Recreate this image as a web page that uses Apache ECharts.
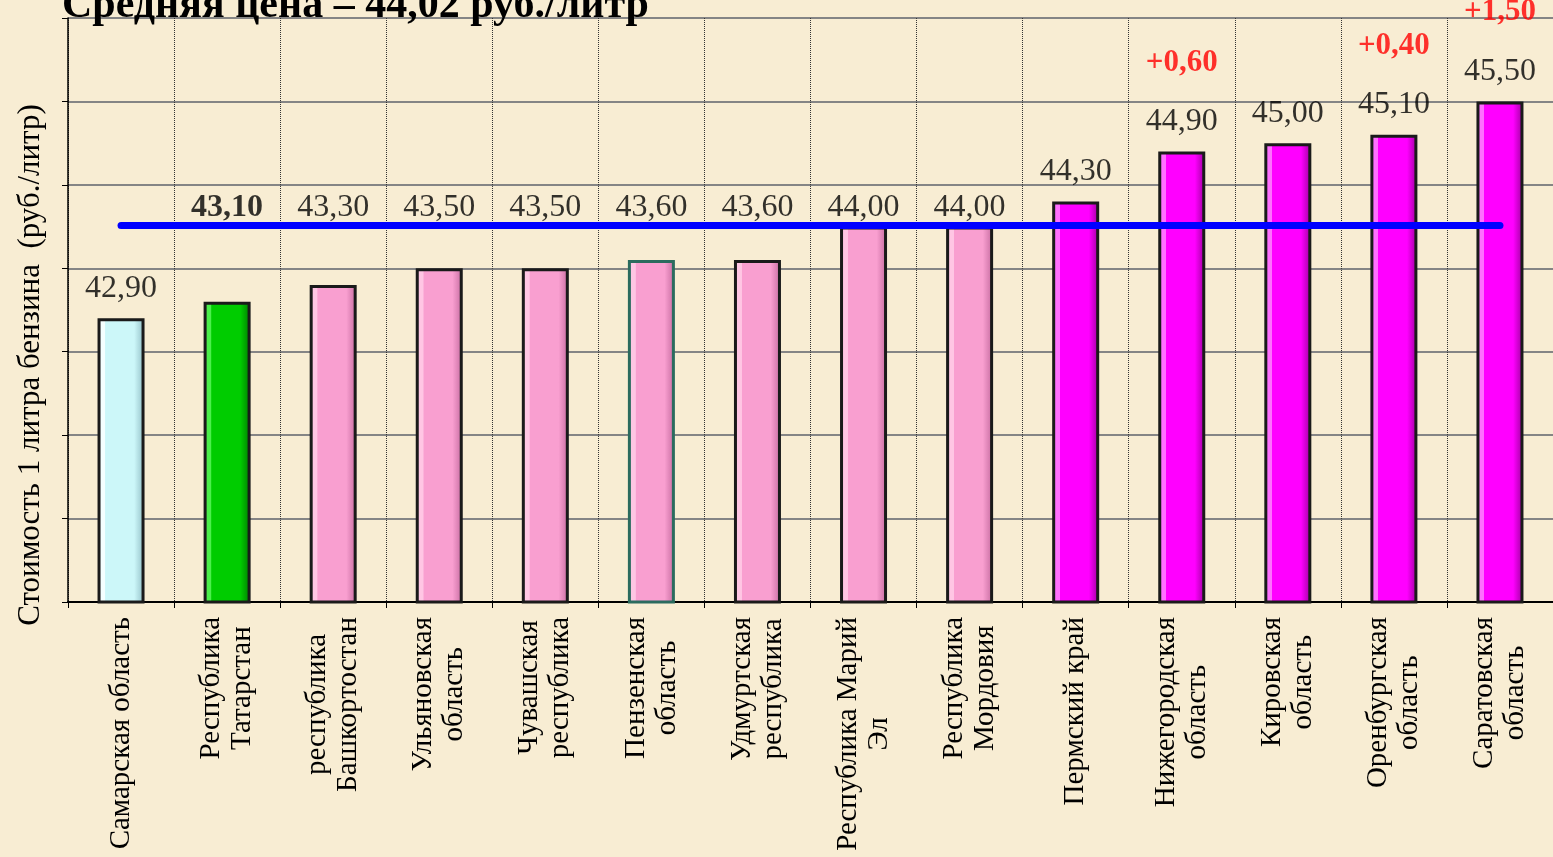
<!DOCTYPE html>
<html><head><meta charset="utf-8">
<script src="https://cdn.jsdelivr.net/npm/echarts@6/dist/echarts.min.js"></script>
<style>html,body{margin:0;padding:0;background:#f8edd3;} #c{width:1553px;height:857px;}</style>
</head><body><div id="c"></div>
<script>
const TITLE = 'Средняя цена – 44,02 руб./литр';
const Y_NAME = 'Стоимость 1 литра бензина  (руб./литр)';
const CATEGORIES = ['Самарская область','Республика\nТатарстан','республика\nБашкортостан','Ульяновская\nобласть','Чувашская\nреспублика','Пензенская\nобласть','Удмуртская\nреспублика','Республика Марий\nЭл','Республика\nМордовия','Пермский край','Нижегородская\nобласть','Кировская\nобласть','Оренбургская\nобласть','Саратовская\nобласть'];
const PRICES = [42.90, 43.10, 43.30, 43.50, 43.50, 43.60, 43.60, 44.00, 44.00, 44.30, 44.90, 45.00, 45.10, 45.50];
const CHANGES = [null, null, null, null, null, null, null, null, null, null, '+0,60', null, '+0,40', '+1,50'];
const AVERAGE = 44.02;
const GROUPS = ['samara', 'tatarstan', 'low', 'low', 'low', 'penza', 'low', 'low', 'low', 'high', 'high', 'high', 'high', 'high'];
const Y_MIN = 39.5, Y_MAX = 46.5, Y_STEP = 1;

const FONT = '"Liberation Serif", "Times New Roman", serif';
const PALETTE = {
  samara:    {light: '#f4ffff', base: '#ccf7f9', dark: '#8fbcc4', border: '#1a1a1a'},
  tatarstan: {light: '#4cf04c', base: '#00cc00', dark: '#007a00', border: '#1a1a1a'},
  low:       {light: '#ffc6e4', base: '#f99fd0', dark: '#c46a9e', border: '#1a1a1a'},
  penza:     {light: '#ffc6e4', base: '#f99fd0', dark: '#c46a9e', border: '#2b6b5e'},
  high:      {light: '#ff70ff', base: '#ff00ff', dark: '#9a009a', border: '#1a1a1a'}
};
function barStyle(g) {
  const p = PALETTE[g];
  return {
    color: {type: 'linear', x: 0, y: 0, x2: 1, y2: 0, colorStops: [
      {offset: 0, color: p.light}, {offset: 0.16, color: p.light},
      {offset: 0.17, color: p.base}, {offset: 0.78, color: p.base},
      {offset: 1, color: p.dark}]},
    borderColor: p.border, borderWidth: 3
  };
}
const fmt = v => v.toFixed(2).replace('.', ',');

const chart = echarts.init(document.getElementById('c'));
chart.setOption({
  backgroundColor: '#f8edd3',
  animation: false,
  title: {text: TITLE, left: 57, top: -20, textStyle: {fontFamily: FONT, fontSize: 42, fontWeight: 'bold', color: '#000'}},
  grid: {left: 68, right: -2, top: 18, bottom: 255, containLabel: false},
  xAxis: {
    type: 'category', data: CATEGORIES, boundaryGap: true,
    axisLine: {lineStyle: {color: '#000', width: 2}},
    axisTick: {show: true, interval: 0, length: 6, lineStyle: {color: '#000', width: 1}},
    splitLine: {show: true, interval: 0, lineStyle: {type: 'dotted', color: '#333', width: 1}},
    axisLabel: {
      interval: 0, rotate: 90, margin: 15, color: '#000',
      formatter: v => v.split('\n').map(s => '{c|' + s + '}').join('\n'),
      rich: {c: {align: 'center', fontSize: 29, lineHeight: 31, fontFamily: FONT, color: '#000'}}
    }
  },
  yAxis: {
    type: 'value', min: Y_MIN, max: Y_MAX, interval: Y_STEP,
    name: Y_NAME, nameLocation: 'middle', nameRotate: 90, nameGap: 22,
    nameTextStyle: {fontFamily: FONT, fontSize: 31, color: '#000', padding: [0, 110, 0, 0]},
    axisLine: {show: true, lineStyle: {color: '#000', width: 1.5}},
    axisTick: {show: true, length: 6, lineStyle: {color: '#000'}},
    axisLabel: {show: false},
    splitLine: {show: true, lineStyle: {color: '#858585', width: 2}}
  },
  series: [
    {
      type: 'bar', barWidth: 47, z: 2,
      data: PRICES.map((v, i) => ({value: v, itemStyle: barStyle(GROUPS[i])})),
      markLine: {
        silent: true, symbol: 'none', z: 5,
        label: {show: false},
        lineStyle: {color: '#0000ff', width: 7, type: 'solid', cap: 'round'},
        data: [[{coord: [CATEGORIES[0], AVERAGE]}, {coord: [CATEGORIES[CATEGORIES.length - 1], AVERAGE]}]]
      }
    },
    {
      type: 'scatter', symbolSize: 0, z: 10, silent: true,
      data: PRICES.map((v, i) => {
        const lifted = i > 0 && v < AVERAGE;
        return {value: [i, lifted ? AVERAGE : v], label: {distance: lifted ? 1 : 14}};
      }),
      label: {
        show: true, position: 'top',
        formatter: p => {
          const i = p.dataIndex;
          const main = (GROUPS[i] === 'tatarstan' ? '{b|' : '{v|') + fmt(PRICES[i]) + '}';
          return CHANGES[i] ? '{r|' + CHANGES[i] + '}\n' + main : main;
        },
        rich: {
          v: {fontFamily: FONT, fontSize: 32, lineHeight: 32, color: '#000'},
          b: {fontFamily: FONT, fontSize: 32, lineHeight: 32, color: '#000', fontWeight: 'bold'},
          r: {fontFamily: FONT, fontSize: 31, lineHeight: 86, color: '#ff0000', fontWeight: 'bold'}
        }
      }
    }
  ]
});
</script></body></html>
